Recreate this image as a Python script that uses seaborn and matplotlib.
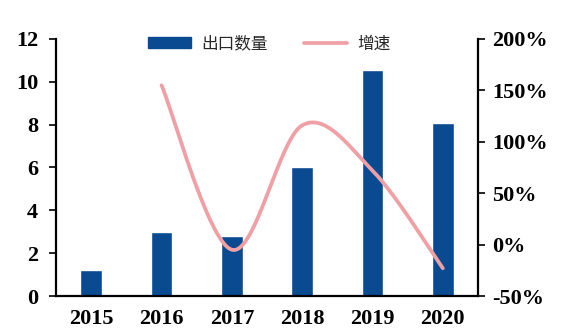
import numpy as np
import pandas as pd
import matplotlib
matplotlib.use("Agg")
import matplotlib.pyplot as plt
import seaborn as sns
from matplotlib.lines import Line2D
from matplotlib.patches import Patch

years = ["2015", "2016", "2017", "2018", "2019", "2020"]
export_qty = [1.2, 3.0, 2.8, 6.0, 10.55, 8.1]
growth_years = ["2016", "2017", "2018", "2019", "2020"]
growth_pct = [155, -5, 116, 72, -23]
left_ticks = [0, 2, 4, 6, 8, 10, 12]
right_ticks = [-50, 0, 50, 100, 150, 200]

BAR = "#0a4a91"
LINE = "#f0a0a4"

sns.set_style("white")
plt.rcParams['font.family'] = ['Liberation Serif', 'Noto Sans CJK SC', 'DejaVu Sans']

fig = plt.figure(figsize=(5.61, 3.36), dpi=100)
ax = fig.add_axes([0.1000, 0.119, 0.7520, 0.765])

df = pd.DataFrame({"year": years, "qty": export_qty})
sns.barplot(data=df, x="year", y="qty", color=BAR, width=0.31, ax=ax,
            saturation=1, zorder=2)
ax.set_xlim(-0.5, 5.5)
ax.set_ylim(0, 12)
ax.set_yticks(left_ticks)
ax.set_yticklabels([str(t) for t in left_ticks])
ax.set_xlabel("")
ax.set_ylabel("")

# smoothed (Excel-style Catmull-Rom) growth line
px = np.array([years.index(y) for y in growth_years], dtype=float)
py = np.array(growth_pct, dtype=float)
xs, ys = [], []
n = len(px)
for i in range(n - 1):
    p0 = (px[i - 1], py[i - 1]) if i > 0 else (px[i], py[i])
    p1 = (px[i], py[i])
    p2 = (px[i + 1], py[i + 1])
    p3 = (px[i + 2], py[i + 2]) if i + 2 < n else (px[i + 1], py[i + 1])
    c1 = (p1[0] + (p2[0] - p0[0]) / 6, p1[1] + (p2[1] - p0[1]) / 6)
    c2 = (p2[0] - (p3[0] - p1[0]) / 6, p2[1] - (p3[1] - p1[1]) / 6)
    t = np.linspace(0, 1, 40)
    bx = (1 - t) ** 3 * p1[0] + 3 * (1 - t) ** 2 * t * c1[0] + 3 * (1 - t) * t ** 2 * c2[0] + t ** 3 * p2[0]
    by = (1 - t) ** 3 * p1[1] + 3 * (1 - t) ** 2 * t * c1[1] + 3 * (1 - t) * t ** 2 * c2[1] + t ** 3 * p2[1]
    xs.extend(bx); ys.extend(by)

ax2 = ax.twinx()
sns.lineplot(x=xs, y=ys, sort=False, color=LINE, linewidth=2.7, ax=ax2, zorder=3)
ax2.set_ylim(-50, 200)
ax2.set_yticks(right_ticks)
ax2.set_yticklabels([f"{t}%" for t in right_ticks])
ax2.set_xlim(-0.5, 5.5)

# x ticks at category boundaries
ax.set_xticks(range(len(years)))
ax.set_xticklabels(years)
ax.set_xticks(np.arange(-0.5, 6.0, 1.0), minor=True)
ax.tick_params(axis="x", which="major", length=0, pad=9)
ax.tick_params(axis="x", which="minor", length=5, width=1.2, direction="out", color="black")
ax.tick_params(axis="y", length=5, width=1.2, direction="out", color="black", pad=8)
ax2.tick_params(axis="y", length=5, width=1.2, direction="out", color="black", pad=5)

for a in (ax, ax2):
    a.spines["top"].set_visible(False)
    for s in ("left", "right", "bottom"):
        a.spines[s].set_color("black")
        a.spines[s].set_linewidth(1.6)
ax.spines["right"].set_visible(False)
ax2.spines["left"].set_visible(False)
ax2.spines["bottom"].set_visible(False)

for lab in ax.get_xticklabels() + ax.get_yticklabels() + ax2.get_yticklabels():
    lab.set_fontweight("bold")
    lab.set_fontsize(16)
    lab.set_color("black")

handles = [Patch(facecolor=BAR, edgecolor=BAR),
           Line2D([0], [0], color=LINE, linewidth=2.7)]
leg = ax.legend(handles, ["出口数量", "增速"], loc="center", bbox_to_anchor=(0.505, 0.98),
                ncol=2, frameon=False, handlelength=2.6, handleheight=0.6,
                columnspacing=2.2, handletextpad=0.6,
                prop={"family": ["Noto Sans CJK SC", "DejaVu Sans"], "size": 12})
leg.set_zorder(5)

fig.savefig("out.png", dpi=100)
